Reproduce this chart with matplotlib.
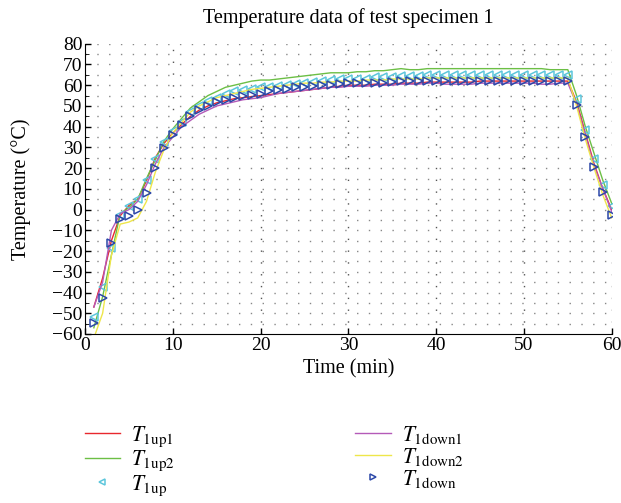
import matplotlib
matplotlib.use('Agg')
from matplotlib import pyplot as plt
import numpy as np

plt.rcParams['font.family'] = ['Liberation Serif', 'DejaVu Serif']
plt.rcParams['mathtext.fontset'] = 'stix'

# time in minutes
t = list(range(1, 61))

t1up1 = [-47, -33, -15, -3, 2, 5, 14, 25, 32, 37, 41, 45, 48, 50, 51.5, 52.5, 53.5, 54, 54.5, 55,
         55.5, 56, 56.5, 57, 57.5, 58, 58.5, 59, 59.5, 60, 60, 60, 60.5, 60.5, 60.5, 61, 61, 61, 61.5, 61.5,
         61.5, 61.5, 61.5, 61.5, 62, 62, 62, 62, 62, 62, 62, 62, 62, 62, 62, 52, 37, 22, 10, 0]
t1up2 = [-57, -42, -22, -2, 1, 5, 15, 24, 33, 39, 44, 49, 52, 55, 57, 59, 60, 61, 62, 62.5,
         62.5, 63, 63.5, 64, 64.5, 65, 65.5, 66, 66, 66, 66.5, 66.5, 67, 67, 67.5, 68, 67.5, 67.5, 68, 68,
         68, 68, 68, 68, 68, 68, 68, 68, 68, 68, 68, 68, 67.5, 67.5, 67.5, 55, 40, 27, 14, 3]
t1down1 = [-47, -35, -10, -2, 0, 4, 12, 22, 30, 35, 40, 43, 46, 48, 50, 51, 52, 53, 53.5, 54,
           55, 56, 56.5, 57, 57.5, 58, 58.5, 59, 59, 59.5, 59.5, 59.5, 60, 60, 60, 60.5, 60.5, 60.5, 61, 61,
           60.5, 60.5, 60.5, 60.5, 61, 61, 61, 61, 61, 61, 61, 60.5, 60.5, 61, 61, 51, 36, 21, 10, -1]
t1down2 = [-62, -50, -22, -7, -6, -4, 4, 18, 29, 37, 42, 47, 50, 52, 54, 55, 56, 57, 58, 58.5,
           59, 59.5, 60, 60.5, 61, 61, 61.5, 61.5, 62, 62, 62, 62.5, 62.5, 62.5, 63, 63, 63, 63, 63.5, 63.5,
           63.5, 63.5, 63.5, 63.5, 63.5, 63.5, 63.5, 63.5, 63.5, 63.5, 63.5, 63.5, 63.5, 63.5, 63.5, 50, 34, 20, 7, -4]
t1up = [-52, -37.5, -18.5, -2.5, 1.5, 5, 14.5, 24.5, 32.5, 38, 42.5, 47, 50, 52.5, 54, 56, 57, 57.5, 58, 59,
        59, 59.5, 60, 60.5, 61, 61.5, 62, 62.5, 63, 63, 63, 63, 64, 64, 64, 64.5, 64.5, 64.5, 65, 65,
        65, 65, 65, 65, 65, 65, 65, 65, 65, 65, 65, 65, 65, 65, 65, 53.5, 38.5, 24.5, 12, 1.5]
t1down = [-54.5, -42.5, -16, -4.5, -3, 0, 8, 20, 29.5, 36, 41, 45, 48, 50, 52, 53, 54, 55, 55.5, 56,
          57, 57.5, 58, 59, 59, 59.5, 60, 60, 60.5, 61, 61, 61, 61, 61, 61.5, 62, 62, 62, 62, 62,
          62, 62, 62, 62, 62, 62, 62, 62, 62, 62, 62, 62, 62, 62, 62, 50.5, 35, 20.5, 8.5, -2.5]

fig = plt.figure(figsize=(6.21, 5.03), dpi=100)
ax = fig.add_axes([0.137, 0.336, 0.848, 0.577])

ax.plot(t, t1up1, color='#e8282d', lw=1, label=r'$T_{\rm 1up1}$')
ax.plot(t, t1up2, color='#6cbf45', lw=1, label=r'$T_{\rm 1up2}$')
ax.plot(t, t1up, ls='none', marker='<', ms=6, mfc='none', mec='#5cc6dc', mew=1.1, label=r'$T_{\rm 1up}$')
ax.plot(t, t1down1, color='#b45ab8', lw=1, label=r'$T_{\rm 1down1}$')
ax.plot(t, t1down2, color='#eee64a', lw=1, label=r'$T_{\rm 1down2}$')
ax.plot(t, t1down, ls='none', marker='>', ms=6, mfc='none', mec='#2c48a8', mew=1.1, label=r'$T_{\rm 1down}$')

ax.set_xlim(0, 60)
ax.set_ylim(-60, 80)
ax.set_xticks(np.arange(0, 61, 10))
ax.set_yticks(np.arange(-60, 81, 10))
ax.set_yticks(np.arange(-60, 81, 5), minor=True)
ax.tick_params(direction='in', labelsize=14, length=4, width=1, pad=2)
ax.tick_params(which='minor', direction='in', length=3)

dots = (0, (1, 7.5))
for yv in np.arange(-55, 81, 5):
    ax.axhline(yv, color='#888888', lw=1, ls=dots, zorder=0)
for xv in np.arange(10, 61, 10):
    ax.axvline(xv, color='#555555', lw=1, ls=dots, zorder=0)

ax.spines['top'].set_visible(False)
ax.spines['right'].set_visible(False)

ax.set_title('Temperature data of test specimen 1', fontsize=14.5, pad=15)
ax.set_xlabel('Time (min)', fontsize=14.5, labelpad=4)
ax.set_ylabel('Temperature (°C)', fontsize=14.5, labelpad=15)

fig.legend(loc='lower left', bbox_to_anchor=(0.105, -0.028), ncol=2, frameon=False,
           fontsize=15.5, columnspacing=8.4, handlelength=1.65, handletextpad=0.5,
           labelspacing=0.0, markerscale=0.8)

fig.savefig('out.png', dpi=100)
